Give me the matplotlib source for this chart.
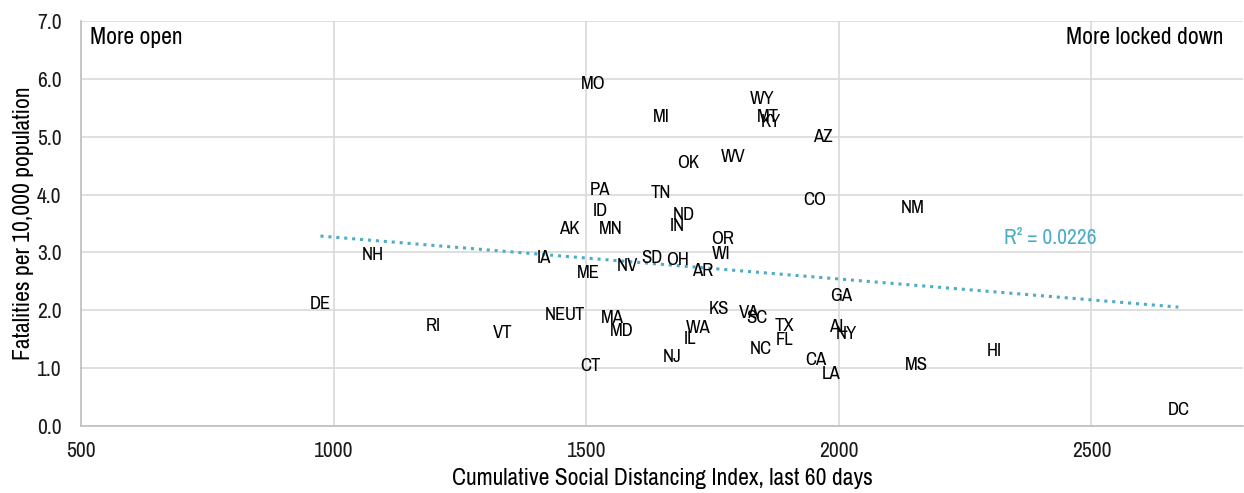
import numpy as np
import matplotlib.pyplot as plt
from matplotlib import font_manager

# social distancing index vs fatalities per 10k
states = ["DE", "NH", "RI", "VT", "IA", "AK", "NE", "UT", "ME", "CT", "MO",
          "PA", "ID", "MN", "MA", "MD", "NV", "SD", "MI", "TN", "NJ",
          "OH", "IN", "ND", "OK", "IL", "WA", "AR", "KS", "WI", "OR",
          "WV", "VA", "SC", "NC", "WY", "MT", "KY", "TX", "FL", "CA",
          "AZ", "CO", "LA", "AL", "GA", "NY", "NM", "MS", "HI", "DC"]
distancing = [974, 1077, 1198, 1334, 1416, 1467, 1439, 1477, 1505, 1509, 1513,
              1528, 1528, 1548, 1552, 1570, 1582, 1630, 1649, 1647, 1671,
              1681, 1681, 1693, 1701, 1705, 1721, 1731, 1762, 1768, 1770,
              1790, 1822, 1838, 1846, 1848, 1860, 1866, 1893, 1893, 1955,
              1969, 1953, 1984, 2000, 2004, 2014, 2147, 2153, 2307, 2672]
fatalities = [2.11, 2.96, 1.73, 1.61, 2.90, 3.40, 1.92, 1.92, 2.64, 1.04, 5.91,
              4.08, 3.72, 3.40, 1.87, 1.64, 2.77, 2.90, 5.34, 4.03, 1.19,
              2.87, 3.46, 3.65, 4.55, 1.50, 1.69, 2.68, 2.02, 2.97, 3.23,
              4.65, 1.95, 1.87, 1.33, 5.65, 5.34, 5.25, 1.73, 1.49, 1.14,
              4.99, 3.91, 0.90, 1.71, 2.25, 1.59, 3.77, 1.05, 1.29, 0.28]

names = sorted(set(f.name for f in font_manager.fontManager.ttflist))
narrow = [n for n in names if "Narrow" in n or "Condensed" in n]
plt.rcParams['font.family'] = narrow[:1] + ['DejaVu Sans']
plt.rcParams['font.stretch'] = 'condensed'
plt.rcParams['font.weight'] = 'light'

fig = plt.figure(figsize=(12.44, 4.93), dpi=100)
ax = fig.add_axes([81/1244, 67/493, 1162/1244, 405/493])

for s, x, y in zip(states, distancing, fatalities):
    ax.text(x, y, s, ha="center", va="center", fontsize=13.5, color="black")

# linear trendline
xs = np.array(distancing)
ys = np.array(fatalities)
slope, intercept = np.polyfit(xs, ys, 1)
tx = np.array([xs.min(), xs.max()])
ax.plot(tx, slope*tx + intercept, linestyle=(0, (1, 1.6)), color="#4bacc6", lw=2.2)
ax.text(2327, 3.25, "R² = 0.0226", color="#4bacc6", fontsize=15.4, va="center")

ax.text(0.008, 0.985, "More open", transform=ax.transAxes, ha="left", va="top", fontsize=17)
ax.text(0.983, 0.985, "More locked down", transform=ax.transAxes, ha="right", va="top", fontsize=17)

ax.set_xlim(500, 2800)
ax.set_ylim(0, 7)
ax.set_xticks([500, 1000, 1500, 2000, 2500])
ax.set_yticks(np.arange(0, 7.5, 1.0))
ax.yaxis.set_major_formatter(plt.FormatStrFormatter("%.1f"))
ax.grid(True, color="#d9d9d9", lw=1.2)
ax.set_axisbelow(True)
for side in ["top", "right"]:
    ax.spines[side].set_visible(False)
for side in ["left", "bottom"]:
    ax.spines[side].set_color("#bfbfbf")
    ax.spines[side].set_linewidth(1.2)
ax.tick_params(length=0, labelsize=15.5, colors="#1a1a1a")
ax.tick_params(axis="x", pad=11)
ax.tick_params(axis="y", pad=14)
ax.set_xlabel("Cumulative Social Distancing Index, last 60 days", fontsize=17, labelpad=5)
ax.set_ylabel("Fatalities per 10,000 population", fontsize=17, labelpad=2)

fig.savefig("out.png", dpi=100)
